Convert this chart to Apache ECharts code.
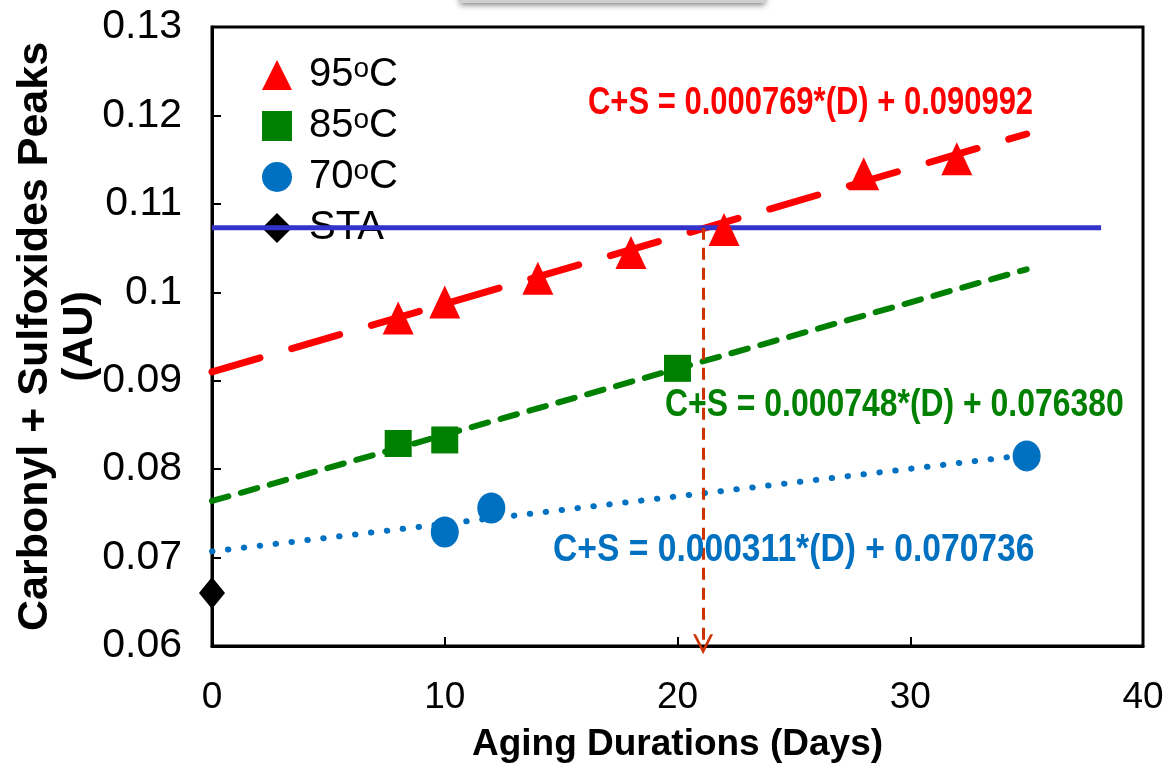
<!DOCTYPE html>
<html><head><meta charset="utf-8">
<script src="https://cdn.jsdelivr.net/npm/echarts@6/dist/echarts.min.js"></script>
<style>html,body{margin:0;padding:0;background:#fff}#c{width:1169px;height:765px}</style>
</head><body><div id="c"></div>
<script>
// ---- data ----
const days95 = [8, 10, 14, 18, 22, 28, 32];
const vals95 = [0.0971, 0.0989, 0.1016, 0.1045, 0.1071, 0.1134, 0.1151];
const days85 = [8, 10, 20];
const vals85 = [0.0829, 0.0833, 0.0914];
const days70 = [10, 12, 35];
const vals70 = [0.0729, 0.0756, 0.0815];
const daysSTA = [0];
const valsSTA = [0.0660];
// trendline end points
const trend95 = [[0, 0.0910], [35, 0.1179]];
const trend85 = [[0, 0.0764], [35, 0.1026]];
const trend70 = [[0, 0.0707], [35, 0.0816]];
const staLine = [[0, 0.1073], [38.2, 0.1073]];
const crossDay = 21.1;
const xTicks = [0, 10, 20, 30, 40];
const yTicks = [0.06, 0.07, 0.08, 0.09, 0.1, 0.11, 0.12, 0.13];
const seriesNames = ['95ºC', '85ºC', '70ºC', 'STA'];
const eqTexts = ['C+S = 0.000769*(D) + 0.090992', 'C+S = 0.000748*(D) + 0.076380', 'C+S = 0.000311*(D) + 0.070736'];

const pair = (xs, ys) => xs.map((x, i) => [x, ys[i]]);
const chart = echarts.init(document.getElementById('c'), null, {renderer: 'canvas'});
const sans = '"Liberation Sans", Arial, sans-serif';
const chevron = 'path://M5,0 L10,10 L8.6,10 L5,3 L1.4,10 L0,10 Z';
const eqStyle = (t, c) => ({text: t, fontFamily: sans, fontWeight: 'bold', fontSize: 38, fill: c, textAlign: 'left', textVerticalAlign: 'middle'});

chart.setOption({
  animation: false,
  grid: {left: 212, right: 26, top: 27, bottom: 119, containLabel: false, outerBoundsMode: 'none',
    show: true, borderColor: '#000', borderWidth: 3, backgroundColor: 'transparent'},
  xAxis: {
    type: 'value', min: xTicks[0], max: xTicks[xTicks.length - 1], interval: 10,
    axisLine: {lineStyle: {color: '#000', width: 3}},
    axisTick: {inside: true, length: 9, lineStyle: {color: '#000', width: 2}},
    splitLine: {show: false},
    axisLabel: {margin: 33, fontFamily: sans, fontSize: 37, color: '#000'},
    name: 'Aging Durations (Days)', nameLocation: 'middle', nameGap: 80, nameMoveOverlap: false,
    nameTextStyle: {fontFamily: sans, fontWeight: 'bold', fontSize: 37, color: '#000'}
  },
  yAxis: {
    type: 'value', min: yTicks[0], max: yTicks[yTicks.length - 1], interval: 0.01,
    axisLine: {lineStyle: {color: '#000', width: 3}},
    axisTick: {inside: true, length: 9, lineStyle: {color: '#000', width: 2}},
    splitLine: {show: false},
    axisLabel: {margin: 30, fontFamily: sans, fontSize: 41, color: '#000',
      formatter: v => String(+v.toFixed(2))},
    name: 'Carbonyl + Sulfoxides Peaks\n(AU)', nameLocation: 'middle', nameGap: 109, nameRotate: 90,
    nameMoveOverlap: false,
    nameTextStyle: {fontFamily: sans, fontWeight: 'bold', fontSize: 43, lineHeight: 45, color: '#000', align: 'center'}
  },
  legend: {
    orient: 'vertical', left: 257, top: 50, itemWidth: 30, itemHeight: 30, itemGap: 9,
    data: seriesNames,
    textStyle: {fontFamily: sans, fontSize: 40, color: '#000', padding: [0, 0, 0, 12],
      rich: {s: {fontFamily: sans, fontSize: 28, verticalAlign: 'top', lineHeight: 40, padding: [0, 0, 14, 0]}}},
    formatter: n => n.replace('º', '{s|o}')
  },
  graphic: [
    {type: 'rect', shape: {x: 460, y: -20, width: 305, height: 23}, style: {fill: '#d0d0d0', shadowBlur: 6, shadowColor: 'rgba(0,0,0,0.5)', shadowOffsetY: 2}, z: 100},
    {type: 'text', x: 588, y: 104, scaleX: 0.815, style: eqStyle(eqTexts[0], '#ff0000'), z: 100},
    {type: 'text', x: 665, y: 406, scaleX: 0.84, style: eqStyle(eqTexts[1], '#008000'), z: 100},
    {type: 'text', x: 553, y: 551, scaleX: 0.885, style: eqStyle(eqTexts[2], '#0070c0'), z: 100}
  ],
  series: [
    {name: seriesNames[0], type: 'scatter', symbol: 'triangle', symbolSize: [31, 33], itemStyle: {color: '#ff0000', opacity: 1}, data: pair(days95, vals95), z: 5},
    {name: seriesNames[1], type: 'scatter', symbol: 'rect', symbolSize: 27, itemStyle: {color: '#008000', opacity: 1}, data: pair(days85, vals85), z: 5},
    {name: seriesNames[2], type: 'scatter', symbol: 'circle', symbolSize: [28, 31], itemStyle: {color: '#0070c0', opacity: 1}, data: pair(days70, vals70), z: 5},
    {name: seriesNames[3], type: 'scatter', symbol: 'diamond', symbolSize: [26, 32], itemStyle: {color: '#000', opacity: 1}, data: pair(daysSTA, valsSTA), z: 5},
    {type: 'line', data: trend95, showSymbol: false, symbol: 'none', z: 3, silent: true,
      lineStyle: {color: '#ff0000', width: 7, type: [50, 33], cap: 'round'}},
    {type: 'line', data: trend85, showSymbol: false, symbol: 'none', z: 3, silent: true,
      lineStyle: {color: '#008000', width: 6, type: [17, 13], cap: 'round'}},
    {type: 'line', data: trend70, showSymbol: false, symbol: 'none', z: 3, silent: true,
      lineStyle: {color: '#0070c0', width: 6, type: [0.5, 15.5], cap: 'round'}},
    {type: 'line', data: staLine, showSymbol: false, symbol: 'none', z: 4, silent: true,
      lineStyle: {color: '#3333cc', width: 5}},
    {type: 'line', data: [], silent: true, z: 4,
      markLine: {silent: true, symbol: ['none', chevron], symbolSize: [20, 20], label: {show: false},
        lineStyle: {color: '#cc3300', width: 3, type: [12, 8]},
        data: [[{coord: [crossDay, staLine[0][1]]}, {coord: [crossDay, 0.0602]}]]}}
  ]
});
</script></body></html>
